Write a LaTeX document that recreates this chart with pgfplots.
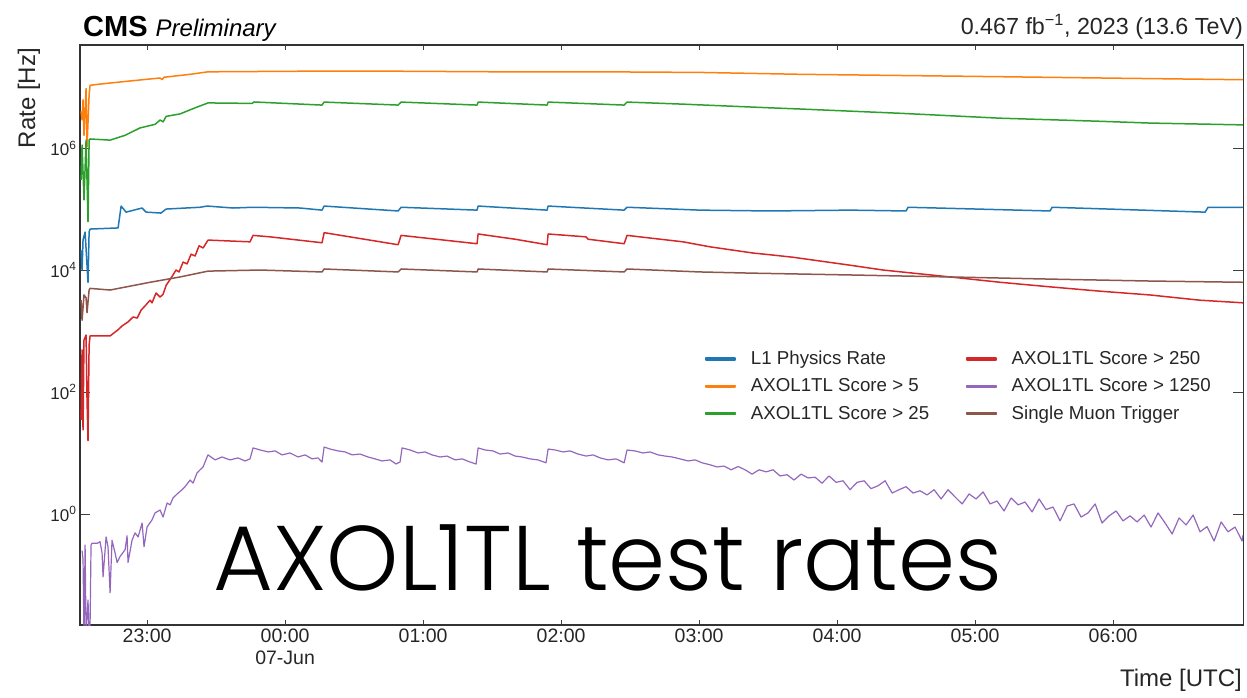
\documentclass[border=0pt]{standalone}
\usepackage{fontspec}
\setmainfont{Liberation Sans}
\newfontfamily\headfont{Poppins Light}
\usepackage{pgfplots}
\pgfplotsset{compat=1.18}

\definecolor{c0}{HTML}{1F77B4}
\definecolor{c1}{HTML}{FF7F0E}
\definecolor{c2}{HTML}{2CA02C}
\definecolor{c3}{HTML}{D62728}
\definecolor{c4}{HTML}{9467BD}
\definecolor{c5}{HTML}{8C564B}

\begin{document}
\begin{tikzpicture}
\begin{axis}[
  at={(0pt,0pt)}, anchor=south west,
  scale only axis, width=1163pt, height=580pt,
  xmin=-1.486, xmax=6.942,
  ymode=log, ymin=0.0151, ymax=4.9e7,
  /pgf/number format/assume math mode=true,
  axis line style={line width=1.1pt, black!80},
  tick align=inside,
  every tick/.style={black!75, line width=0.8pt},
  major tick length=10pt,
  xminorticks=false, yminorticks=false,
  xtick={-1,0,1,2,3,4,5,6},
  xticklabels={23:00,{00:00\\07-Jun},01:00,02:00,03:00,04:00,05:00,06:00},
  major x tick style={/pgfplots/major tick length=5pt},
  extra x ticks={0}, extra x tick labels={},
  extra x tick style={/pgfplots/major tick length=11pt},
  xticklabel style={align=center, font=\fontsize{19.5}{22}\selectfont, text=black!85},
  ytick={1,100,10000,1000000},
  yticklabels={10\textsuperscript{0},10\textsuperscript{2},10\textsuperscript{4},10\textsuperscript{6}},
  yticklabel style={font=\fontsize{17}{20}\selectfont, text=black!85},
  every axis plot/.append style={line width=1.5pt, line join=round},
  legend columns=2, legend cell align=left,
  legend style={at={(0.535,0.479)}, anchor=north west, draw=none, fill=none,
    font=\fontsize{18.7}{22}\selectfont, text=black!85, row sep=8.5pt,
    /tikz/every odd column/.append style={column sep=13pt},
    /tikz/every even column/.append style={column sep=35pt}},
]

% L1 physics rate
\addplot[c0, legend image code/.code={\fill[c0] (0pt,-0.9pt) rectangle (29pt,0.9pt);}] coordinates {
(-1.478,2.1e4) (-1.471,1.0e4) (-1.464,3.1e4) (-1.449,4.2e4) (-1.428,6.3e3)
(-1.420,4.2e4) (-1.413,4.7e4) (-1.210,4.9e4) (-1.188,1.12e5) (-1.152,8.9e4)
(-1.036,1.04e5) (-1.007,8.9e4) (-0.899,8.6e4) (-0.862,1.0e5) (-0.616,1.07e5)
(-0.565,1.12e5) (-0.377,1.04e5) (-0.232,1.07e5) (0.109,1.04e5) (0.268,9.6e4)
(0.283,1.12e5) (0.819,9.3e4) (0.841,1.07e5) (1.391,9.6e4) (1.399,1.12e5)
(1.899,9.6e4) (1.906,1.12e5) (2.457,9.6e4) (2.478,1.07e5) (3.007,9.6e4)
(3.514,9.3e4) (4.094,9.6e4) (4.500,9.3e4) (4.514,1.07e5) (5.543,9.3e4)
(5.558,1.07e5) (6.667,8.9e4) (6.688,1.07e5) (6.942,1.07e5)
};
\addlegendentry{L1 Physics Rate}

% score > 250
\addplot[c3, legend image code/.code={\fill[c3] (0pt,-0.9pt) rectangle (29pt,0.9pt);}] coordinates {
(-1.478,35) (-1.471,490) (-1.464,24) (-1.457,710) (-1.442,860) (-1.435,74)
(-1.428,16) (-1.420,590) (-1.413,830) (-1.268,830) (-1.210,1050) (-1.181,1210)
(-1.138,1410) (-1.101,1700) (-1.072,1630) (-1.043,2200) (-1.007,2700)
(-0.978,3200) (-0.964,2900) (-0.935,4200) (-0.906,3600) (-0.884,4000)
(-0.862,5600) (-0.826,7400) (-0.790,1.0e4) (-0.768,9300) (-0.739,1.35e4)
(-0.710,1.26e4) (-0.681,1.82e4) (-0.652,1.70e4) (-0.623,2.5e4) (-0.594,2.3e4)
(-0.558,3.1e4) (-0.254,2.9e4) (-0.232,3.7e4) (-0.109,3.5e4) (0.268,2.8e4)
(0.283,4.1e4) (0.819,2.6e4) (0.841,3.7e4) (1.391,2.7e4) (1.399,3.9e4)
(1.667,3.2e4) (1.899,2.6e4) (1.906,3.9e4) (2.181,3.5e4) (2.196,3.2e4)
(2.457,2.7e4) (2.478,3.7e4) (2.884,2.9e4) (3.080,2.4e4) (3.391,1.9e4)
(3.514,1.78e4) (3.681,1.62e4) (4.094,1.20e4) (4.333,1.0e4) (4.819,7.7e3)
(5.181,6.3e3) (5.543,5.3e3) (5.906,4.5e3) (6.268,3.9e3) (6.630,3.2e3)
(6.942,2.9e3)
};
\addlegendentry{AXOL1TL Score > 250}

% score > 5
\addplot[c1, legend image code/.code={\fill[c1] (0pt,-0.9pt) rectangle (29pt,0.9pt);}] coordinates {
(-1.478,4.0e6) (-1.471,2.9e6) (-1.464,6.2e6) (-1.457,1.62e6) (-1.442,9.5e6)
(-1.435,1.05e6) (-1.420,7.4e6) (-1.413,1.07e7) (-1.341,1.12e7) (-1.123,1.26e7)
(-0.906,1.41e7) (-0.891,1.33e7) (-0.877,1.45e7) (-0.688,1.62e7) (-0.558,1.78e7)
(0.109,1.82e7) (0.833,1.82e7) (1.558,1.78e7) (2.283,1.78e7) (3.007,1.74e7)
(3.732,1.62e7) (4.457,1.55e7) (5.181,1.48e7) (5.906,1.41e7) (6.942,1.32e7)
};
\addlegendentry{AXOL1TL Score > 5}

% score > 1250
\addplot[c4, line width=1.2pt, legend image code/.code={\fill[c4] (0pt,-0.9pt) rectangle (29pt,0.9pt);}] coordinates {
(-1.471,0.25) (-1.464,0.18) (-1.457,0.01) (-1.449,0.31) (-1.442,0.01)
(-1.428,0.039) (-1.420,0.01) (-1.413,0.015) (-1.406,0.31) (-1.399,0.33)
(-1.362,0.33) (-1.341,0.35) (-1.326,0.23) (-1.319,0.093) (-1.297,0.42)
(-1.283,0.29) (-1.268,0.051) (-1.254,0.37) (-1.232,0.23) (-1.217,0.16)
(-1.196,0.20) (-1.159,0.26) (-1.145,0.44) (-1.138,0.16) (-1.109,0.37)
(-1.087,0.49) (-1.065,0.42) (-1.036,0.71) (-1.022,0.29) (-1.000,0.61)
(-0.964,0.80) (-0.942,1.04) (-0.906,1.16) (-0.884,0.89) (-0.855,1.51)
(-0.833,1.41) (-0.812,1.83) (-0.775,2.2) (-0.746,2.5) (-0.725,2.8)
(-0.688,3.6) (-0.667,3.2) (-0.638,4.7) (-0.616,5.3) (-0.594,5.9)
(-0.565,8.6) (-0.558,9.3) (-0.507,7.7) (-0.457,8.6) (-0.399,7.7)
(-0.341,8.3) (-0.290,7.4) (-0.254,8.0) (-0.232,12.1) (-0.181,11.2)
(-0.123,10.4) (-0.072,10.8) (-0.022,9.3) (0.036,10.0) (0.094,8.6)
(0.145,9.3) (0.196,8.0) (0.239,8.3) (0.268,7.1) (0.283,12.5)
(0.326,11.6) (0.384,10.8) (0.435,10.4) (0.486,9.3) (0.543,9.6)
(0.601,8.6) (0.652,8.0) (0.703,7.4) (0.761,7.7) (0.804,6.6)
(0.833,7.1) (0.848,12.1) (0.906,11.2) (0.964,10.0) (1.014,10.4)
(1.065,9.3) (1.123,8.6) (1.174,8.9) (1.232,7.7) (1.283,8.0)
(1.341,7.1) (1.384,6.6) (1.399,12.1) (1.449,11.2) (1.507,10.8)
(1.558,9.6) (1.616,10.0) (1.667,8.9) (1.717,8.6) (1.775,8.0)
(1.833,7.7) (1.891,6.9) (1.906,11.6) (1.957,11.2) (2.014,10.4)
(2.065,10.8) (2.123,9.6) (2.181,8.9) (2.232,9.3) (2.283,8.3)
(2.341,7.7) (2.399,8.0) (2.457,6.9) (2.478,11.2) (2.536,10.8)
(2.594,10.0) (2.645,10.4) (2.703,9.3) (2.754,8.9) (2.804,8.6)
(2.862,8.0) (2.920,7.4) (2.971,7.7) (3.022,6.9)
(3.080,6.4) (3.130,5.9) (3.181,6.1) (3.232,5.3) (3.283,6.0)
(3.333,5.3) (3.384,4.5) (3.435,5.3) (3.486,4.9) (3.536,5.3)
(3.587,4.2) (3.638,4.4) (3.688,3.6) (3.739,4.5) (3.790,3.9)
(3.841,4.0) (3.891,3.2) (3.942,4.2) (3.993,3.3) (4.043,3.5)
(4.094,2.5) (4.145,3.3) (4.196,3.5) (4.246,2.6) (4.297,2.9)
(4.348,3.5) (4.399,2.2) (4.449,2.5) (4.500,2.8) (4.551,2.2)
(4.601,2.4) (4.652,2.05) (4.703,2.5) (4.754,1.76) (4.804,2.5)
(4.855,1.90) (4.906,1.46) (4.957,2.13) (5.007,1.76) (5.058,2.3)
(5.109,1.46) (5.159,1.63) (5.210,1.12) (5.261,1.83) (5.312,1.41)
(5.362,1.57) (5.413,1.08) (5.464,1.76) (5.514,1.18) (5.565,1.30)
(5.616,0.77) (5.667,1.35) (5.717,1.46) (5.768,0.89) (5.819,1.04)
(5.870,1.46) (5.920,0.71) (5.971,0.93) (6.022,1.12) (6.072,0.77)
(6.123,0.93) (6.174,0.74) (6.225,0.96) (6.275,0.61) (6.326,1.04)
(6.377,0.71) (6.428,0.47) (6.478,0.86) (6.529,0.66) (6.580,0.96)
(6.630,0.51) (6.681,0.62) (6.732,0.36) (6.783,0.74) (6.833,0.51)
(6.884,0.61) (6.935,0.36) (6.942,0.45)
};
\addlegendentry{AXOL1TL Score > 1250}

% score > 25
\addplot[c2, legend image code/.code={\fill[c2] (0pt,-0.9pt) rectangle (29pt,0.9pt);}] coordinates {
(-1.478,3.0e5) (-1.471,1.12e6) (-1.457,1.41e5) (-1.442,1.35e6) (-1.428,6.2e4)
(-1.420,1.35e6) (-1.413,1.41e6) (-1.268,1.35e6) (-1.159,1.62e6) (-1.051,2.14e6)
(-0.942,2.45e6) (-0.906,2.88e6) (-0.884,2.69e6) (-0.862,3.31e6) (-0.761,3.63e6)
(-0.652,4.57e6) (-0.558,5.5e6) (-0.239,5.4e6) (-0.225,5.7e6) (0.268,5.07e6)
(0.283,5.68e6) (0.819,5.07e6) (0.841,5.68e6) (1.391,5.07e6) (1.399,5.68e6)
(1.899,5.07e6) (1.906,5.68e6) (2.457,5.07e6) (2.478,5.68e6) (2.884,5.25e6)
(3.514,4.57e6) (3.732,4.37e6) (4.457,3.72e6) (5.181,3.09e6) (5.906,2.75e6)
(6.268,2.57e6) (6.942,2.40e6)
};
\addlegendentry{AXOL1TL Score > 25}

% single muon trigger
\addplot[c5, legend image code/.code={\fill[c5] (0pt,-0.9pt) rectangle (29pt,0.9pt);}] coordinates {
(-1.478,3.2e3) (-1.471,1.5e3) (-1.457,3.9e3) (-1.442,3.5e3) (-1.435,2.0e3)
(-1.420,4.7e3) (-1.413,5.0e3) (-1.268,4.7e3) (-0.978,6.3e3) (-0.761,7.7e3)
(-0.558,9.6e3) (-0.181,1.0e4) (0.268,9.3e3) (0.283,1.04e4) (0.819,9.3e3)
(0.841,1.04e4) (1.391,9.3e3) (1.399,1.04e4) (1.899,9.3e3) (1.906,1.04e4)
(2.457,9.3e3) (2.478,1.04e4) (3.007,9.3e3) (3.373,8.9e3) (4.094,8.3e3)
(4.819,7.7e3) (5.543,7.1e3) (6.268,6.6e3) (6.942,6.3e3)
};
\addlegendentry{Single Muon Trigger}

\end{axis}

% labels around the frame
\node[anchor=base west, inner sep=0pt] at (3pt,588pt)
  {\fontsize{29}{30}\selectfont\bfseries CMS\ \fontsize{24}{26}\selectfont\mdseries\itshape Preliminary};
\node[anchor=base east, inner sep=0pt, text=black!85] at (1163pt,590pt)
  {\fontsize{23.3}{25}\selectfont 0.467 fb\textsuperscript{\textminus1}, 2023 (13.6 TeV)};
\node[anchor=east, rotate=90, inner sep=0pt, text=black!85] at (-51pt,577pt)
  {\fontsize{24}{26}\selectfont Rate [Hz]};
\node[anchor=base east, inner sep=0pt, text=black!85] at (1162pt,-61pt)
  {\fontsize{24}{26}\selectfont Time [UTC]};
\node[anchor=base west, inner sep=0pt] at (133pt,35pt)
  {\headfont\fontsize{91.8}{95}\selectfont AXOL1TL test rates};

\pgfresetboundingbox
\useasboundingbox (-80pt,-72pt) rectangle (1167pt,625pt);
\end{tikzpicture}
\end{document}
